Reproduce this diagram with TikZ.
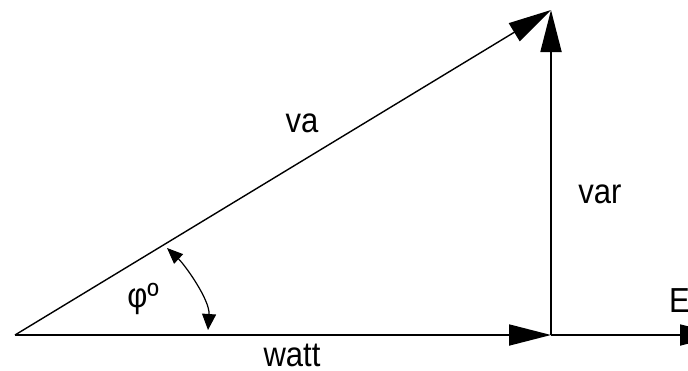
\documentclass[tikz,border=0pt]{standalone}
\usepackage{fontspec}
\setmainfont{Liberation Sans}
\usetikzlibrary{arrows.meta}
\newcommand{\lbltext}[1]{\scalebox{1}[1.12]{#1}}
\tikzset{
  vec/.style={line width=1.8pt, -{Triangle[length=42pt,width=21pt]}},
  hyp/.style={line width=1.4pt, -{Triangle[length=43pt,width=21pt]}},
  angarc/.style={line width=1.2pt, {Triangle[length=16pt,width=13pt]}-{Triangle[length=16pt,width=14pt]}},
  lbl/.style={inner sep=0pt, anchor=base, font=\fontsize{31}{37}\selectfont}
}
\begin{document}
\begin{tikzpicture}[x=1pt,y=-1pt]
\useasboundingbox (0,0) rectangle (688,370);
\clip (0,0) rectangle (688,370);
\coordinate (O) at (15,335);
\coordinate (P) at (551,335);
\coordinate (Q) at (551,10);
\coordinate (R) at (722,335);
\coordinate (S) at (167,248);
\coordinate (T) at (208,330);
\draw[vec] (O) -- (P);
\draw[vec] (P) -- (R);
\draw[vec] (P) -- (Q);
\draw[hyp] (O) -- (Q);
\draw[angarc] (S) .. controls (185,265) and (210,300) .. (T);
\node[lbl] (va) at (302,132) {\lbltext{va}};
\node[lbl] (var) at (600,203) {\lbltext{var}};
\node[lbl] (watt) at (292,366) {\lbltext{watt}};
\node[lbl] (phi) at (143,307) {\lbltext{φº}};
\node[lbl, anchor=base west] (E) at (669,312) {\lbltext{E}};
\end{tikzpicture}
\end{document}
